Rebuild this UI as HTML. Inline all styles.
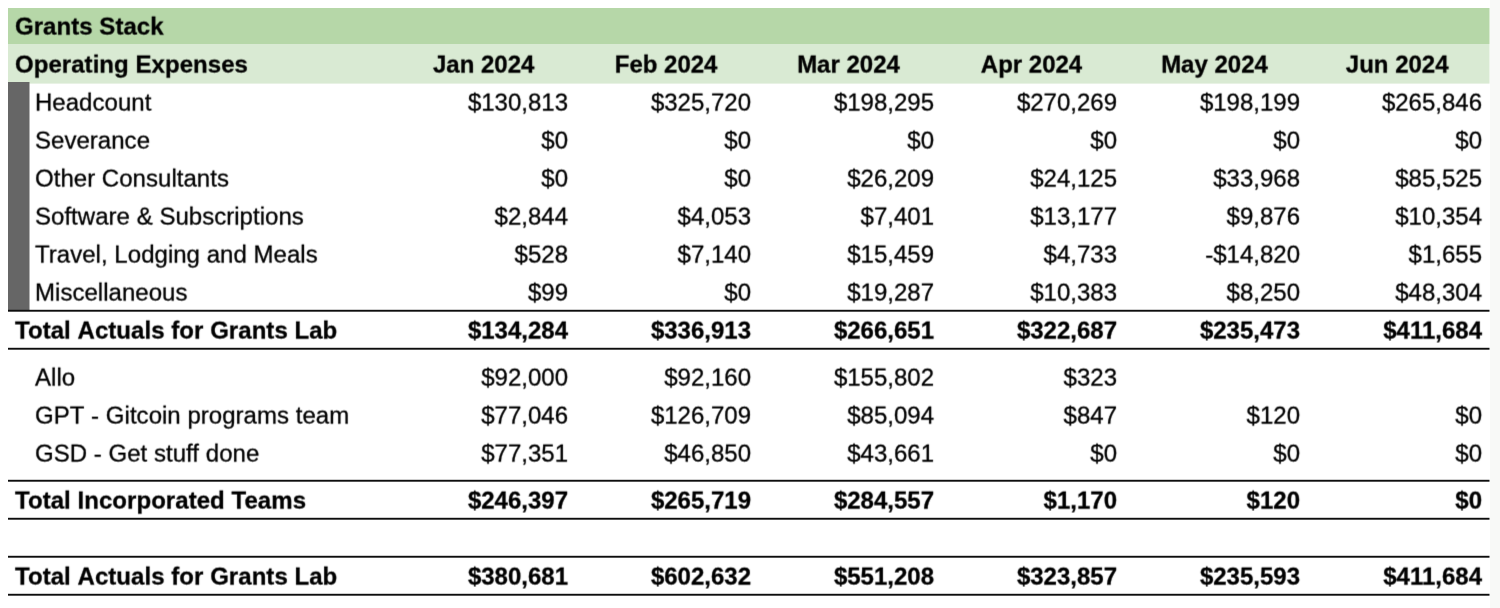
<!DOCTYPE html>
<html lang="en">
<head>
<meta charset="utf-8">
<title>Grants Stack</title>
<style>
html,body{margin:0;padding:0;background:#fff;}
body{width:1500px;height:608px;position:relative;overflow:hidden;font-family:"Liberation Sans",Arial,Helvetica,sans-serif;font-size:24px;color:#000;font-kerning:none;}
.bg{position:absolute;left:0;top:0;}
.t{-webkit-text-stroke:0.3px #000;transform:scale(1,1.025);transform-origin:0 78%;position:absolute;height:38px;line-height:38px;white-space:nowrap;}
.l{left:15px;}
.i{left:35px;letter-spacing:0.03px;}
.r{text-align:right;width:183px;}
.c{text-align:center;width:183px;}
.b{font-weight:bold;}
.layer{position:absolute;left:0;top:0;width:1500px;height:608px;filter:url(#soft);}
.l{letter-spacing:0.05px;}
.k,.r{font-kerning:normal;}
</style>
</head>
<body>
<svg class="bg" width="1500" height="608" viewBox="0 0 1500 608" aria-hidden="true">
<rect x="1490" y="0" width="10" height="608" fill="#f8f9f7"/>
<rect x="8" y="8" width="1481.5" height="36" fill="#b6d7a8"/>
<rect x="8" y="44" width="1481.5" height="39.6" fill="#d9ead3"/>
<rect x="8" y="82" width="21.5" height="229" fill="#666666"/>
<defs><filter id="soft" x="0" y="0" width="100%" height="100%" color-interpolation-filters="sRGB"><feConvolveMatrix order="3" kernelMatrix="0.0400 0.3200 0.0400 0.0600 0.4800 0.0600 0.0000 0.0000 0.0000" divisor="1" edgeMode="none" preserveAlpha="false"/></filter></defs>
<g fill="#0d0d0d">
<rect x="8" y="309.8" width="1481.5" height="1.9"/>
<rect x="8" y="347.8" width="1481.5" height="1.9"/>
<rect x="8" y="479.8" width="1481.5" height="1.9"/>
<rect x="8" y="517.8" width="1481.5" height="1.9"/>
<rect x="8" y="555.8" width="1481.5" height="1.9"/>
<rect x="8" y="593.8" width="1481.5" height="1.9"/>
</g>
</svg>
<div class="layer">
<div class="t l b" style="top:8px">Grants Stack</div>
<div class="t l b" style="top:46px">Operating Expenses</div>
<div class="t c b" style="top:46px;left:392.2px">Jan 2024</div>
<div class="t c b" style="top:46px;left:574.6px">Feb 2024</div>
<div class="t c b" style="top:46px;left:757px">Mar 2024</div>
<div class="t c b" style="top:46px;left:940px">Apr 2024</div>
<div class="t c b" style="top:46px;left:1123px">May 2024</div>
<div class="t c b" style="top:46px;left:1305.7px">Jun 2024</div>
<div class="t i" style="top:84px">Headcount</div>
<div class="t r" style="top:84px;left:385px">$130,813</div>
<div class="t r" style="top:84px;left:568px">$325,720</div>
<div class="t r" style="top:84px;left:751px">$198,295</div>
<div class="t r" style="top:84px;left:934px">$270,269</div>
<div class="t r" style="top:84px;left:1117px">$198,199</div>
<div class="t r" style="top:84px;left:1299px">$265,846</div>
<div class="t i" style="top:122px">Severance</div>
<div class="t r" style="top:122px;left:385px">$0</div>
<div class="t r" style="top:122px;left:568px">$0</div>
<div class="t r" style="top:122px;left:751px">$0</div>
<div class="t r" style="top:122px;left:934px">$0</div>
<div class="t r" style="top:122px;left:1117px">$0</div>
<div class="t r" style="top:122px;left:1299px">$0</div>
<div class="t i" style="top:160px">Other Consultants</div>
<div class="t r" style="top:160px;left:385px">$0</div>
<div class="t r" style="top:160px;left:568px">$0</div>
<div class="t r" style="top:160px;left:751px">$26,209</div>
<div class="t r" style="top:160px;left:934px">$24,125</div>
<div class="t r" style="top:160px;left:1117px">$33,968</div>
<div class="t r" style="top:160px;left:1299px">$85,525</div>
<div class="t i" style="top:198px">Software &amp; Subscriptions</div>
<div class="t r" style="top:198px;left:385px">$2,844</div>
<div class="t r" style="top:198px;left:568px">$4,053</div>
<div class="t r" style="top:198px;left:751px">$7,401</div>
<div class="t r" style="top:198px;left:934px">$13,177</div>
<div class="t r" style="top:198px;left:1117px">$9,876</div>
<div class="t r" style="top:198px;left:1299px">$10,354</div>
<div class="t i" style="top:236px"><span class="k">Travel,</span> Lodging and Meals</div>
<div class="t r" style="top:236px;left:385px">$528</div>
<div class="t r" style="top:236px;left:568px">$7,140</div>
<div class="t r" style="top:236px;left:751px">$15,459</div>
<div class="t r" style="top:236px;left:934px">$4,733</div>
<div class="t r" style="top:236px;left:1117px">-$14,820</div>
<div class="t r" style="top:236px;left:1299px">$1,655</div>
<div class="t i" style="top:274px">Miscellaneous</div>
<div class="t r" style="top:274px;left:385px">$99</div>
<div class="t r" style="top:274px;left:568px">$0</div>
<div class="t r" style="top:274px;left:751px">$19,287</div>
<div class="t r" style="top:274px;left:934px">$10,383</div>
<div class="t r" style="top:274px;left:1117px">$8,250</div>
<div class="t r" style="top:274px;left:1299px">$48,304</div>
<div class="t l b" style="top:312px"><span class="k">Total</span> Actuals for Grants Lab</div>
<div class="t r b" style="top:312px;left:385px">$134,284</div>
<div class="t r b" style="top:312px;left:568px">$336,913</div>
<div class="t r b" style="top:312px;left:751px">$266,651</div>
<div class="t r b" style="top:312px;left:934px">$322,687</div>
<div class="t r b" style="top:312px;left:1117px">$235,473</div>
<div class="t r b" style="top:312px;left:1299px">$411,684</div>
<div class="t i" style="top:359px">Allo</div>
<div class="t r" style="top:359px;left:385px">$92,000</div>
<div class="t r" style="top:359px;left:568px">$92,160</div>
<div class="t r" style="top:359px;left:751px">$155,802</div>
<div class="t r" style="top:359px;left:934px">$323</div>
<div class="t i" style="top:397px">GPT - Gitcoin programs team</div>
<div class="t r" style="top:397px;left:385px">$77,046</div>
<div class="t r" style="top:397px;left:568px">$126,709</div>
<div class="t r" style="top:397px;left:751px">$85,094</div>
<div class="t r" style="top:397px;left:934px">$847</div>
<div class="t r" style="top:397px;left:1117px">$120</div>
<div class="t r" style="top:397px;left:1299px">$0</div>
<div class="t i" style="top:435px">GSD - Get <span class="k">stuff</span> done</div>
<div class="t r" style="top:435px;left:385px">$77,351</div>
<div class="t r" style="top:435px;left:568px">$46,850</div>
<div class="t r" style="top:435px;left:751px">$43,661</div>
<div class="t r" style="top:435px;left:934px">$0</div>
<div class="t r" style="top:435px;left:1117px">$0</div>
<div class="t r" style="top:435px;left:1299px">$0</div>
<div class="t l b" style="top:482px"><span class="k">Total</span> Incorporated <span class="k">Teams</span></div>
<div class="t r b" style="top:482px;left:385px">$246,397</div>
<div class="t r b" style="top:482px;left:568px">$265,719</div>
<div class="t r b" style="top:482px;left:751px">$284,557</div>
<div class="t r b" style="top:482px;left:934px">$1,170</div>
<div class="t r b" style="top:482px;left:1117px">$120</div>
<div class="t r b" style="top:482px;left:1299px">$0</div>
<div class="t l b" style="top:558px"><span class="k">Total</span> Actuals for Grants Lab</div>
<div class="t r b" style="top:558px;left:385px">$380,681</div>
<div class="t r b" style="top:558px;left:568px">$602,632</div>
<div class="t r b" style="top:558px;left:751px">$551,208</div>
<div class="t r b" style="top:558px;left:934px">$323,857</div>
<div class="t r b" style="top:558px;left:1117px">$235,593</div>
<div class="t r b" style="top:558px;left:1299px">$411,684</div>
</div>
</body>
</html>
